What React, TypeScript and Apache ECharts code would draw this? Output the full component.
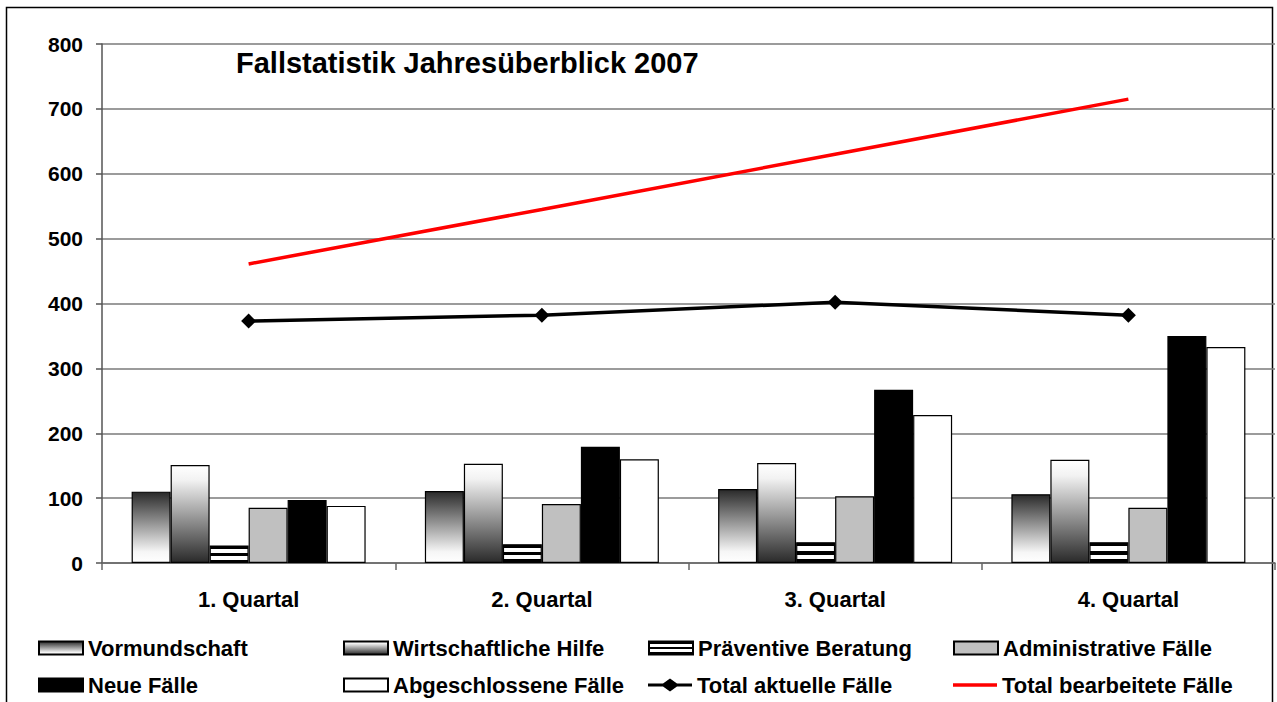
import React, { useEffect, useRef } from "react";
import * as echarts from "echarts";

const categories = ["1. Quartal", "2. Quartal", "3. Quartal", "4. Quartal"];
const vormundschaft = [110, 111, 114, 106];
const wirtschaftlicheHilfe = [151, 153, 154, 159];
const praeventiveBeratung = [27, 29, 32, 32];
const administrativeFaelle = [85, 91, 103, 85];
const neueFaelle = [97, 179, 267, 350];
const abgeschlosseneFaelle = [88, 160, 228, 333];
const totalAktuelle = [373, 382, 402, 382];
const totalBearbeitete = [461, 545, 630, 715];
const yTicks = { min: 0, max: 800, interval: 100 };

const legendLayout = [
  ["Vormundschaft", "Neue Fälle"],
  ["Wirtschaftliche Hilfe", "Abgeschlossene Fälle"],
  ["Präventive Beratung", "Total aktuelle Fälle"],
  ["Administrative Fälle", "Total bearbeitete Fälle"],
];

const FONT = "'Liberation Sans', Arial, sans-serif";

export default function App() {
  const ref = useRef<HTMLDivElement>(null);
  useEffect(() => {
    document.body.style.margin = "0";
    if (!ref.current) return;
    const chart = echarts.init(ref.current, undefined, { renderer: "svg" });
    const darkTop = new echarts.graphic.LinearGradient(0, 0, 0, 1, [
      { offset: 0, color: "#2a2a2a" },
      { offset: 0.85, color: "#f6f6f6" },
      { offset: 1, color: "#ffffff" },
    ]);
    const darkBottom = new echarts.graphic.LinearGradient(0, 0, 0, 1, [
      { offset: 0, color: "#ffffff" },
      { offset: 0.15, color: "#f2f2f2" },
      { offset: 1, color: "#2a2a2a" },
    ]);
    const stripes = new echarts.graphic.LinearGradient(0, 0, 0, 1, [
      { offset: 0, color: "#000" },
      { offset: 0.17, color: "#000" },
      { offset: 0.17, color: "#fff" },
      { offset: 0.4, color: "#fff" },
      { offset: 0.4, color: "#000" },
      { offset: 0.6, color: "#000" },
      { offset: 0.6, color: "#fff" },
      { offset: 0.83, color: "#fff" },
      { offset: 0.83, color: "#000" },
      { offset: 1, color: "#000" },
    ]);
    const barBase = {
      type: "bar",
      barWidth: 39,
      barGap: "0%",
      itemStyle: { borderColor: "#000", borderWidth: 1.2 },
    };
    const colLefts = [38, 343, 648, 953];
    const rowTops = [637, 674];
    const legends: any[] = [];
    legendLayout.forEach((col, ci) => {
      col.forEach((name, ri) => {
        const item: any = { name, icon: "rect" };
        if (name === "Total bearbeitete Fälle") {
          item.icon = "path://M0,0 L44,0 L44,3.5 L0,3.5 Z";
          item.itemStyle = { color: "#ff0000", borderWidth: 0 };
        }
        if (name === "Total aktuelle Fälle") {
          item.icon = "path://M0,5 L15,5 L22,0 L29,5 L44,5 L44,8 L29,8 L22,13 L15,8 L0,8 Z";
          item.itemStyle = { color: "#000", borderWidth: 0 };
        }
        legends.push({
          left: colLefts[ci],
          top: rowTops[ri],
          itemWidth: 44,
          itemHeight: 13,
          padding: 0,
          selectedMode: false,
          textStyle: { fontFamily: FONT, fontWeight: "bold", fontSize: 22, color: "#000", lineHeight: 22 },
          data: [item],
        });
      });
    });
    chart.setOption({
      animation: false,
      backgroundColor: "#fff",
      title: {
        text: "Fallstatistik Jahresüberblick 2007",
        left: 231,
        top: 43,
        textStyle: { fontFamily: FONT, fontWeight: "bold", fontSize: 29, color: "#000" },
      },
      grid: { left: 102, right: 2, top: 44, bottom: 139 },
      legend: legends,
      xAxis: {
        type: "category",
        data: categories,
        axisLine: { lineStyle: { color: "#666", width: 1.5 } },
        axisTick: { show: true, length: 7, lineStyle: { color: "#666", width: 1.5 } },
        axisLabel: { fontFamily: FONT, fontWeight: "bold", fontSize: 22, color: "#000", margin: 25 },
      },
      yAxis: {
        type: "value",
        min: yTicks.min,
        max: yTicks.max,
        interval: yTicks.interval,
        axisLine: { show: true, lineStyle: { color: "#555", width: 1.5 } },
        axisTick: { show: true, length: 6, lineStyle: { color: "#555", width: 1.5 } },
        splitLine: { lineStyle: { color: "#7a7a7a", width: 1.5 } },
        axisLabel: { fontFamily: FONT, fontWeight: "bold", fontSize: 21, color: "#000", margin: 19 },
      },
      series: [
        { ...barBase, name: "Vormundschaft", data: vormundschaft, itemStyle: { ...barBase.itemStyle, color: darkTop } },
        { ...barBase, name: "Wirtschaftliche Hilfe", data: wirtschaftlicheHilfe, itemStyle: { ...barBase.itemStyle, color: darkBottom } },
        { ...barBase, name: "Präventive Beratung", data: praeventiveBeratung, itemStyle: { ...barBase.itemStyle, color: stripes } },
        { ...barBase, name: "Administrative Fälle", data: administrativeFaelle, itemStyle: { ...barBase.itemStyle, color: "#c0c0c0" } },
        { ...barBase, name: "Neue Fälle", data: neueFaelle, itemStyle: { ...barBase.itemStyle, color: "#000" } },
        { ...barBase, name: "Abgeschlossene Fälle", data: abgeschlosseneFaelle, itemStyle: { ...barBase.itemStyle, color: "#fff" } },
        {
          type: "line",
          name: "Total aktuelle Fälle",
          data: totalAktuelle,
          symbol: "diamond",
          symbolSize: 15,
          lineStyle: { color: "#000", width: 3.5 },
          itemStyle: { color: "#000" },
          z: 5,
        },
        {
          type: "line",
          name: "Total bearbeitete Fälle",
          data: totalBearbeitete,
          symbol: "none",
          lineStyle: { color: "#ff0000", width: 3.5 },
          itemStyle: { color: "#ff0000" },
          z: 5,
        },
      ],
      graphic: [
        {
          type: "rect",
          shape: { x: 6.5, y: 7.5, width: 1266, height: 720 },
          style: { fill: "none", stroke: "#000", lineWidth: 1.5 },
          silent: true,
        },
      ],
    });
    return () => chart.dispose();
  }, []);
  return <div ref={ref} style={{ width: 1277, height: 702 }} />;
}
